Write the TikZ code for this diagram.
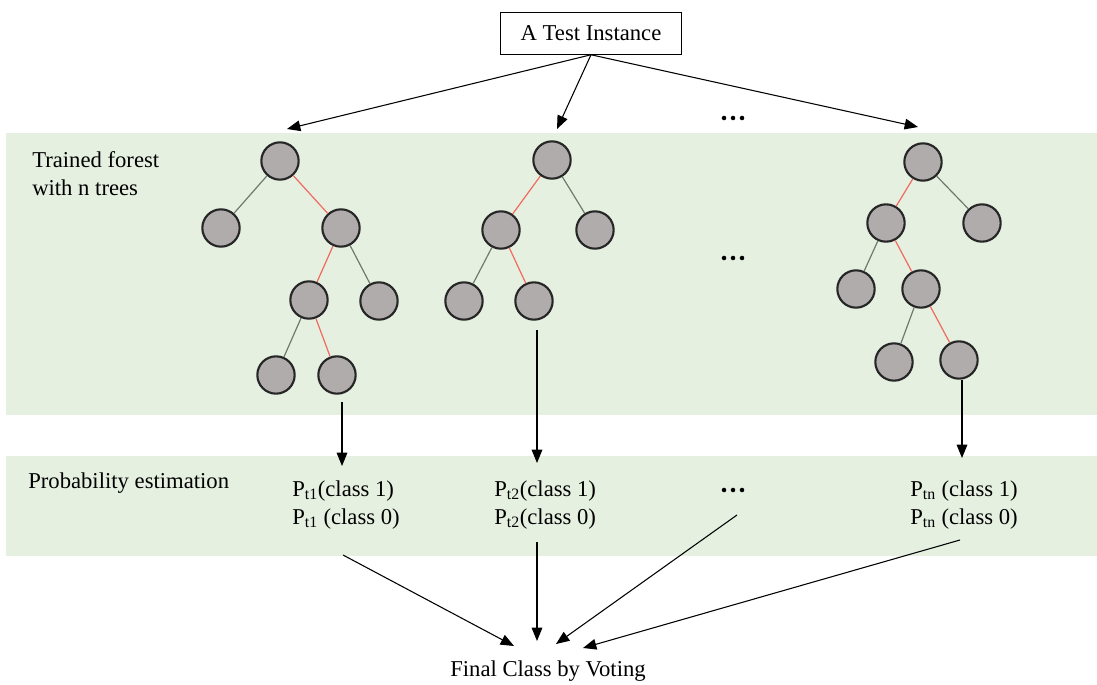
\documentclass[tikz,border=0pt]{standalone}
\usepackage{fontspec}
\setmainfont{Liberation Serif}
\usetikzlibrary{arrows.meta}
\definecolor{band}{HTML}{E5F0E1}
\definecolor{nodefill}{HTML}{B0ACAB}
\definecolor{edgegray}{HTML}{6F7A6E}
\definecolor{edgered}{HTML}{F06A5E}
\begin{document}
\begin{tikzpicture}[x=0.75pt,y=-0.75pt,
  font=\fontsize{17}{21}\selectfont,
  tn/.style={circle,draw=black!85,line width=1.6pt,fill=nodefill,minimum size=28pt,inner sep=0pt},
  eg/.style={draw=edgegray,line width=0.9pt},
  er/.style={draw=edgered,line width=0.9pt},
  arr/.style={draw=black,line width=0.8pt,-{Triangle[length=10pt,width=8pt]}},
  lbl/.style={inner sep=0pt,anchor=west,align=left},
  dot/.style={circle,fill=black,inner sep=0pt,minimum size=3.4pt}]
\useasboundingbox (0,0) rectangle (1097,685);
% background bands
\fill[band] (6,133) rectangle (1097,415);
\fill[band] (6,456) rectangle (1097,556);

% test instance
\node[draw,line width=0.9pt,minimum width=136pt,minimum height=31pt,inner sep=2pt] (ti) at (591,33.5) {A Test Instance};

% labels of the bands
\node[lbl,anchor=north west] (lab1) at (32,151) {Trained forest\\with n trees};
\node[lbl] (lab2) at (28,483) {Probability estimation};

% tree 1
\node[tn] (a1) at (280,161) {};
\node[tn] (a2) at (221,228) {};
\node[tn] (a3) at (341,228) {};
\node[tn] (a4) at (309,300) {};
\node[tn] (a5) at (379,301) {};
\node[tn] (a6) at (276,375) {};
\node[tn] (a7) at (337,375) {};
\draw[eg] (a1) -- (a2);
\draw[er] (a1) -- (a3);
\draw[er] (a3) -- (a4);
\draw[eg] (a3) -- (a5);
\draw[eg] (a4) -- (a6);
\draw[er] (a4) -- (a7);

% tree 2
\node[tn] (b1) at (552,160) {};
\node[tn] (b2) at (501,230) {};
\node[tn] (b3) at (595,230) {};
\node[tn] (b4) at (464,301) {};
\node[tn] (b5) at (534,301) {};
\draw[er] (b1) -- (b2);
\draw[eg] (b1) -- (b3);
\draw[eg] (b2) -- (b4);
\draw[er] (b2) -- (b5);

% tree n
\node[tn] (c1) at (923,162) {};
\node[tn] (c2) at (886,223) {};
\node[tn] (c3) at (982,223) {};
\node[tn] (c4) at (856,289) {};
\node[tn] (c5) at (921,289) {};
\node[tn] (c6) at (894,362) {};
\node[tn] (c7) at (959,360) {};
\draw[er] (c1) -- (c2);
\draw[eg] (c1) -- (c3);
\draw[eg] (c2) -- (c4);
\draw[er] (c2) -- (c5);
\draw[eg] (c5) -- (c6);
\draw[er] (c5) -- (c7);

% ellipses: three dots each
\foreach \name/\yy in {da/118,db/258,dc/490}{
  \node[dot] (\name1) at (724,\yy) {};
  \node[dot] (\name2) at (733,\yy) {};
  \node[dot] (\name3) at (742,\yy) {};
}

% arrows into the forest
\coordinate (t1) at (287,129);
\coordinate (t2) at (557,129);
\coordinate (t3) at (918,127);
\draw[arr] (ti.south) -- (t1);
\draw[arr] (ti.south) -- (t2);
\draw[arr] (ti.south) -- (t3);

% probability estimates
\node[lbl] (p1) at (292,505) {P\textsubscript{t1}(class 1)\\P\textsubscript{t1} (class 0)};
\node[lbl] (p2) at (494,505) {P\textsubscript{t2}(class 1)\\P\textsubscript{t2}(class 0)};
\node[lbl] (p3) at (910,505) {P\textsubscript{tn} (class 1)\\P\textsubscript{tn} (class 0)};

% leaf to estimate
\coordinate (l1) at (342,402);
\coordinate (l2) at (537,330);
\coordinate (l3) at (962,380);
\coordinate (e1) at (342,466);
\coordinate (e2) at (537,463);
\coordinate (e3) at (962,458);
\draw[arr] (l1) -- (e1);
\draw[arr] (l2) -- (e2);
\draw[arr] (l3) -- (e3);

% voting
\node (fv) at (548,671) {Final Class by Voting};
\coordinate (s1) at (343,555);
\coordinate (s2) at (537,542);
\coordinate (s3) at (737,515);
\coordinate (s4) at (960,540);
\coordinate (v1) at (514,646);
\coordinate (v2) at (537,641);
\coordinate (v3) at (556,644);
\coordinate (v4) at (583,648);
\draw[arr] (s1) -- (v1);
\draw[arr] (s2) -- (v2);
\draw[arr] (s3) -- (v3);
\draw[arr] (s4) -- (v4);
\end{tikzpicture}
\end{document}
